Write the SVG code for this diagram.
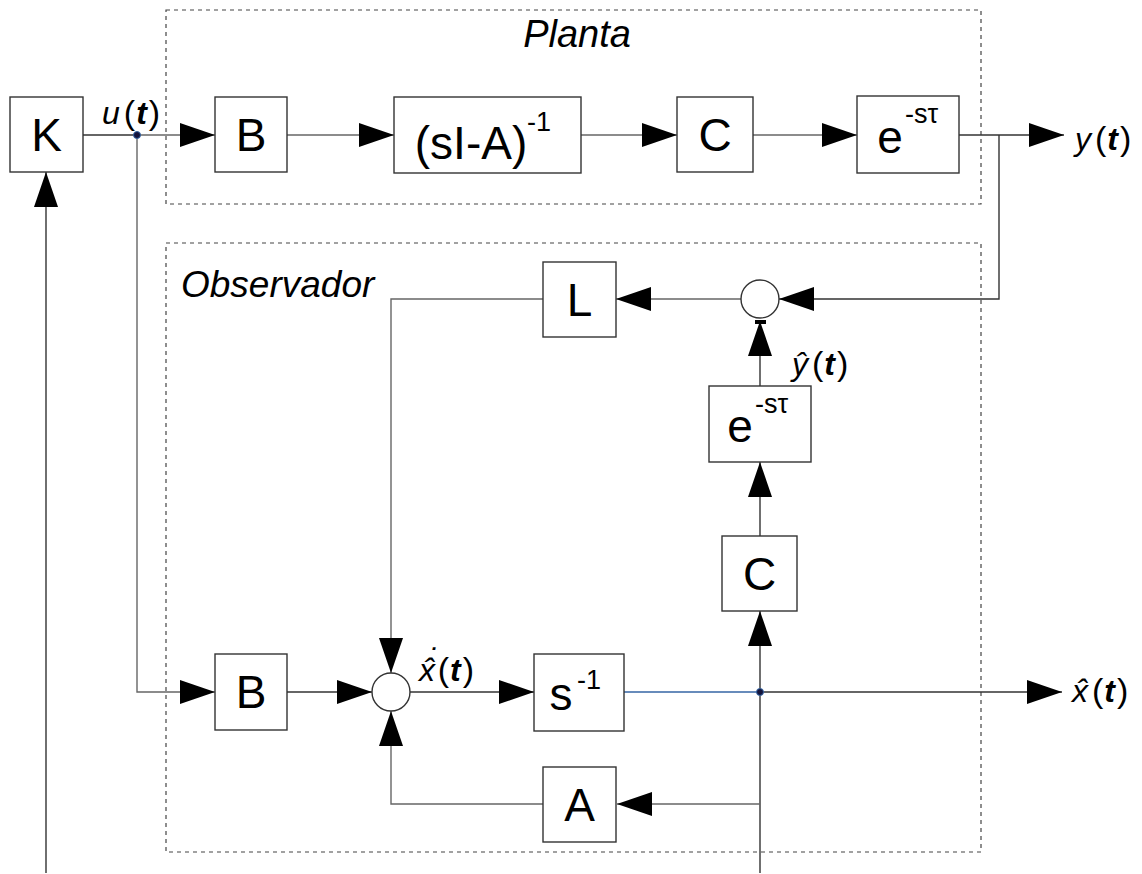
<svg xmlns="http://www.w3.org/2000/svg" width="1142" height="874" viewBox="0 0 1142 874">
<style>
.box{fill:#fff;stroke:#333;stroke-width:1.4}
.frame{fill:none;stroke:#444;stroke-width:1.2;stroke-dasharray:4,4}
.ln{fill:none;stroke:#333;stroke-width:1.4}
.lg{fill:none;stroke:#666;stroke-width:1.4}
.lb{fill:none;stroke:#3465a4;stroke-width:1.4}
.sum{fill:#fff;stroke:#333;stroke-width:1.4}
.t{font-family:"Liberation Sans",Arial,sans-serif;font-size:46px;fill:#000;text-anchor:middle}
.sup{font-family:"Liberation Sans",Arial,sans-serif;font-size:27px;fill:#000}
.ti{font-family:"Liberation Sans",Arial,sans-serif;font-style:italic;fill:#000}
.m{font-family:"Liberation Sans",Arial,sans-serif;font-size:32px;font-style:italic;fill:#000}
.p{font-style:normal;font-weight:300;font-size:34px}
.b{font-weight:bold}
.dot{fill:#14143c;stroke:#3465a4;stroke-width:1}
</style>
<defs>
<marker id="ar" markerUnits="userSpaceOnUse" markerWidth="36" markerHeight="24" refX="35" refY="12" orient="auto">
<path d="M0,0 L35,12 L0,24 Z" fill="#000"/>
</marker>
</defs>
<rect width="1142" height="874" fill="#fff"/>

<g id="planta">
<rect class="frame" x="166" y="10" width="815" height="194"/>
<text class="ti" x="577" y="47" text-anchor="middle" font-size="38">Planta</text>
</g>
<g id="observador">
<rect class="frame" x="166" y="243" width="815" height="609"/>
<text class="ti" x="181" y="297" font-size="37">Observador</text>
</g>

<g id="connectors">
<path class="ln" d="M83,135 H137"/>
<path class="lg" d="M137,135 H215" marker-end="url(#ar)"/>
<path class="lg" d="M287,135 H394" marker-end="url(#ar)"/>
<path class="lg" d="M581,135 H677" marker-end="url(#ar)"/>
<path class="lg" d="M753,135 H857" marker-end="url(#ar)"/>
<path class="ln" d="M959,135 H1064" marker-end="url(#ar)"/>
<path class="ln" d="M999,135 V299 H779" marker-end="url(#ar)"/>
<path class="lg" d="M741,299 H616" marker-end="url(#ar)"/>
<path class="lg" d="M543,299 H391 V673" marker-end="url(#ar)"/>
<path class="lg" d="M137,135 V692 H215" marker-end="url(#ar)"/>
<path class="ln" d="M287,692 H372" marker-end="url(#ar)"/>
<path class="ln" d="M410,692 H534" marker-end="url(#ar)"/>
<path class="lb" d="M624,692 H760"/>
<path class="ln" d="M760,692 H1062" marker-end="url(#ar)"/>
<path class="ln" d="M760,873 V611" marker-end="url(#ar)"/>
<path class="ln" d="M760,536 V462" marker-end="url(#ar)"/>
<path class="ln" d="M760,386 V321" marker-end="url(#ar)"/>
<rect x="755" y="320" width="11" height="4" fill="#000"/>
<path class="lg" d="M760,804 H617" marker-end="url(#ar)"/>
<path class="lg" d="M543,804 H391 V711" marker-end="url(#ar)"/>
<path class="ln" d="M46,873 V172" marker-end="url(#ar)"/>
<circle class="dot" cx="137" cy="135" r="3.5"/>
<circle class="dot" cx="760" cy="692" r="3.5"/>
</g>

<g id="K"><rect class="box" x="10" y="97" width="73" height="75"/><text class="t" x="46.5" y="151">K</text></g>
<g id="B1"><rect class="box" x="215" y="97" width="72" height="75"/><text class="t" x="251" y="151">B</text></g>
<g id="inv"><rect class="box" x="394" y="97" width="187" height="76"/>
<text class="t" x="471" y="159">(sI-A)</text><text class="sup" x="527" y="131">-1</text></g>
<g id="C1"><rect class="box" x="677" y="97" width="76" height="75"/><text class="t" x="715" y="151">C</text></g>
<g id="E1"><rect class="box" x="857" y="96" width="102" height="77"/>
<text class="t" x="890" y="153">e</text><text class="sup" x="905" y="123">-sτ</text></g>

<g id="sum1"><circle class="sum" cx="760" cy="299" r="19"/></g>
<g id="L"><rect class="box" x="543" y="262" width="73" height="75"/><text class="t" x="579.5" y="316">L</text></g>
<g id="E2"><rect class="box" x="709" y="386" width="102" height="76"/>
<text class="t" x="740" y="442">e</text><text class="sup" x="755" y="413">-sτ</text></g>
<g id="C2"><rect class="box" x="722" y="536" width="75" height="75"/><text class="t" x="759.5" y="590">C</text></g>
<g id="B2"><rect class="box" x="215" y="654" width="72" height="76"/><text class="t" x="251" y="708">B</text></g>
<g id="sum2"><circle class="sum" cx="391" cy="692" r="19"/></g>
<g id="S"><rect class="box" x="534" y="654" width="90" height="77"/>
<text class="t" x="561" y="710">s</text><text class="sup" x="577" y="689">-1</text></g>
<g id="A"><rect class="box" x="543" y="767" width="73" height="75"/><text class="t" x="579.5" y="821">A</text></g>

<g id="labels">
<text class="m" x="102" y="124">u<tspan class="p" dx="4">(</tspan><tspan class="b" dx="1">t</tspan><tspan class="p" dx="2">)</tspan></text>
<text class="m" x="1075" y="150">y<tspan class="p" dx="4">(</tspan><tspan class="b" dx="1">t</tspan><tspan class="p" dx="2">)</tspan></text>
<text class="m" x="792" y="375">ŷ<tspan class="p" dx="4">(</tspan><tspan class="b" dx="1">t</tspan><tspan class="p" dx="2">)</tspan></text>
<text class="m" x="419" y="681">x̂<tspan dx="-8" dy="-11">˙</tspan><tspan class="p" dx="0" dy="11">(</tspan><tspan class="b" dx="1">t</tspan><tspan class="p" dx="2">)</tspan></text>
<text class="m" x="1072" y="702">x̂<tspan class="p" dx="4">(</tspan><tspan class="b" dx="1">t</tspan><tspan class="p" dx="2">)</tspan></text>
</g>
</svg>
